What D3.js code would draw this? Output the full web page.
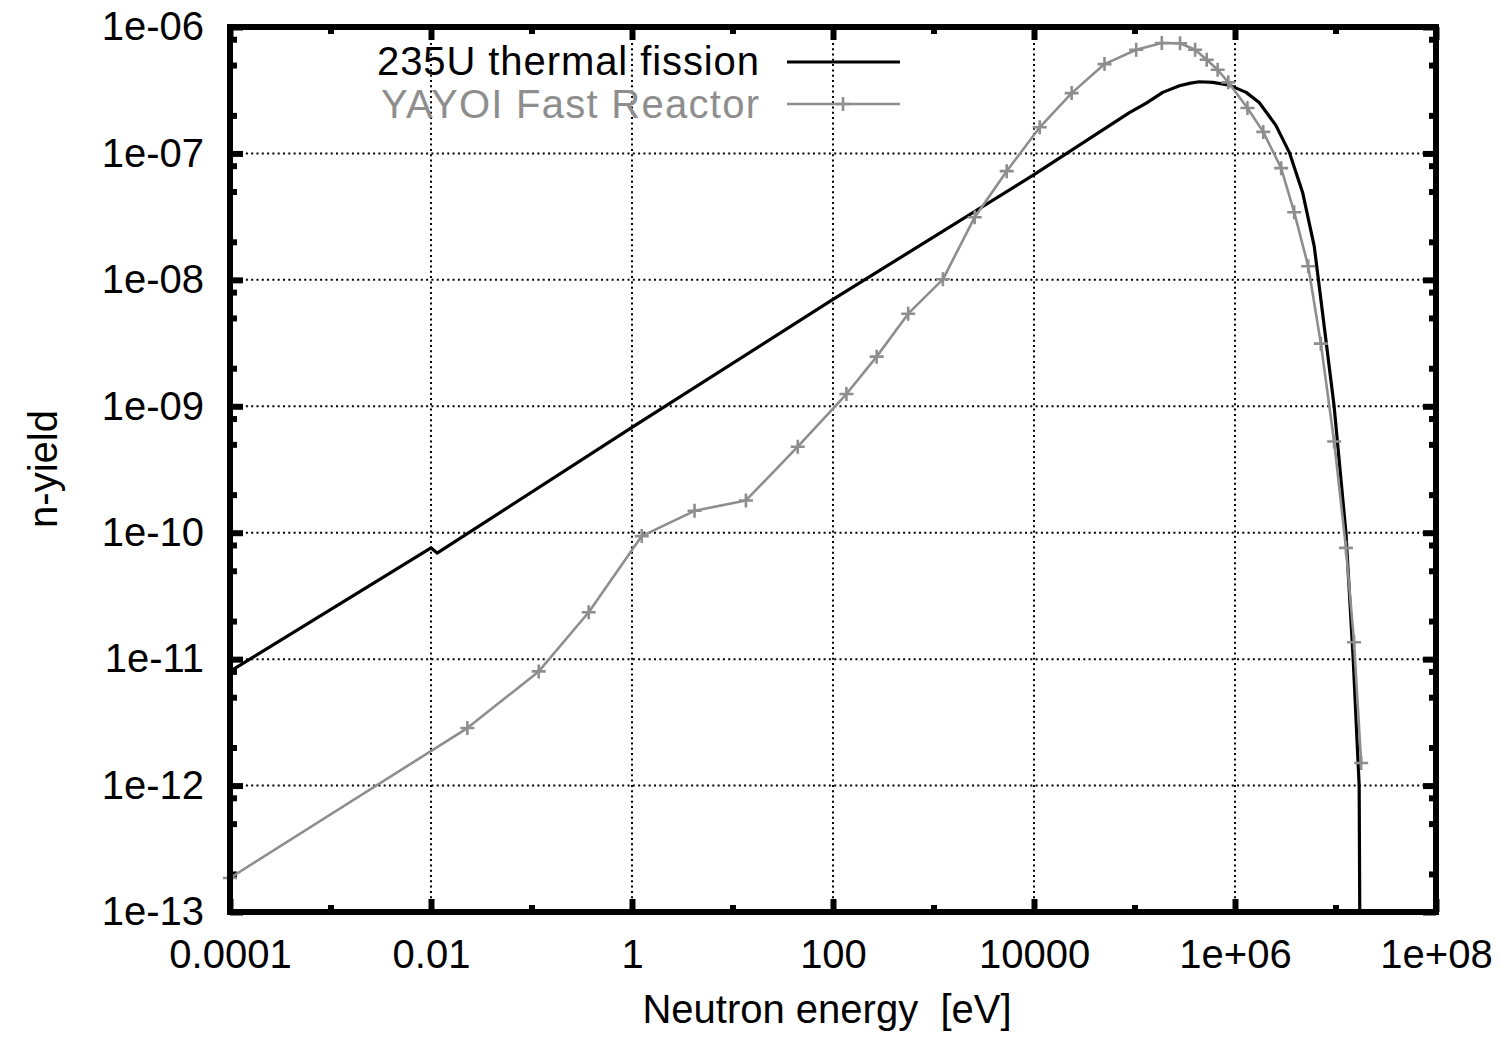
<!DOCTYPE html>
<html>
<head>
<meta charset="utf-8">
<script src="https://cdn.jsdelivr.net/npm/d3@7"></script>
<style>
  body { margin: 0; background: #fff; }
  svg text { font-family: "Liberation Sans", Arial, Helvetica, sans-serif; }
</style>
</head>
<body>
<svg></svg>
<script>
// chart data
var energyTicks = [1e-4, 1e-2, 1, 1e2, 1e4, 1e6, 1e8];
var energyTickLabels = ["0.0001", "0.01", "1", "100", "10000", "1e+06", "1e+08"];
var energyMinorTicks = [1e-3, 1e-1, 1e1, 1e3, 1e5, 1e7];
var yieldTicks = [1e-6, 1e-7, 1e-8, 1e-9, 1e-10, 1e-11, 1e-12, 1e-13];
var yieldTickLabels = ["1e-06", "1e-07", "1e-08", "1e-09", "1e-10", "1e-11", "1e-12", "1e-13"];
var yieldMinorSteps = [2, 5, 8];

var u235Energy = [1e-4, 0.01, 0.0115, 1, 100, 1e4, 8.9e4, 1.31e5, 1.91e5, 2.8e5, 3.6e5, 4.42e5, 6.0e5, 8.77e5,
  1.29e6, 1.74e6, 2.56e6, 3.47e6, 4.70e6, 6.14e6, 7.42e6, 9.69e6, 1.27e7, 1.50e7, 1.72e7, 1.75e7];
var u235Yield = [8.0e-12, 7.6e-11, 6.9e-11, 6.8e-10, 7.0e-9, 6.8e-8, 2.1e-7, 2.5e-7, 3.04e-7, 3.43e-7, 3.6e-7, 3.69e-7, 3.65e-7, 3.47e-7,
  3.04e-7, 2.53e-7, 1.66e-7, 1.02e-7, 4.94e-8, 1.85e-8, 5.53e-9, 1.0e-9, 1.0e-10, 1.0e-11, 1.0e-12, 5e-14];

var yayoiEnergy = [1e-4, 0.023, 0.118, 0.371, 1.25, 4.19, 13.6, 44.6, 136, 272, 560, 1240, 2570, 5350,
  1.14e4, 2.37e4, 5.03e4, 1.04e5, 1.87e5, 2.84e5, 4.01e5, 5.23e5, 6.72e5, 8.58e5,
  1.33e6, 1.91e6, 2.88e6, 3.88e6, 5.35e6, 7.15e6, 9.69e6, 1.27e7, 1.53e7, 1.80e7];
var yayoiYield = [1.86e-13, 2.85e-12, 8.0e-12, 2.35e-11, 9.4e-11, 1.49e-10, 1.80e-10, 4.79e-10, 1.25e-9, 2.47e-9, 5.4e-9, 1.01e-8, 3.13e-8, 7.24e-8,
  1.61e-7, 3.0e-7, 5.09e-7, 6.61e-7, 7.47e-7, 7.43e-7, 6.61e-7, 5.51e-7, 4.59e-7, 3.65e-7,
  2.29e-7, 1.48e-7, 7.65e-8, 3.43e-8, 1.28e-8, 3.13e-9, 5.27e-10, 7.59e-11, 1.36e-11, 1.51e-12];

var seriesNames = ["235U thermal fission", "YAYOI Fast Reactor"];

// layout
var width = 1502, height = 1042;
var plot = {left: 230, right: 1436, top: 27, bottom: 912};
var grey = "#8e8e8e";

var svg = d3.select("svg")
    .attr("width", width)
    .attr("height", height);

var x = d3.scaleLog().domain([1e-4, 1e8]).range([plot.left, plot.right]);
var y = d3.scaleLog().domain([1e-13, 1e-6]).range([plot.bottom, plot.top]);

svg.append("defs").append("clipPath").attr("id", "clip")
  .append("rect")
    .attr("x", plot.left).attr("y", plot.top)
    .attr("width", plot.right - plot.left).attr("height", plot.bottom - plot.top);

// grid
var grid = svg.append("g")
    .attr("stroke", "#000")
    .attr("stroke-width", 2)
    .attr("stroke-dasharray", "2,3.3");
grid.selectAll(".gx").data(energyTicks).enter().append("line")
    .attr("x1", function(d) { return x(d); }).attr("x2", function(d) { return x(d); })
    .attr("y1", plot.top).attr("y2", plot.bottom);
grid.selectAll(".gy").data(yieldTicks).enter().append("line")
    .attr("y1", function(d) { return y(d); }).attr("y2", function(d) { return y(d); })
    .attr("x1", plot.left).attr("x2", plot.right);

// axes (ticks point inward, mirrored on top/right)
var yieldMinor = [];
for (var e = -13; e < -6; e++) {
  yieldMinorSteps.forEach(function(m) { yieldMinor.push(m * Math.pow(10, e)); });
}

function styleAxis(g) {
  g.select(".domain").remove();
  g.attr("font-family", null).attr("font-size", 40);
  g.selectAll("line").attr("stroke-width", 6);
  g.selectAll("text").attr("fill", "#000");
}

function addAxis(axis, tx, ty) {
  svg.append("g")
      .attr("transform", "translate(" + tx + "," + ty + ")")
      .call(axis.tickSizeOuter(0))
      .call(styleAxis);
}

addAxis(d3.axisBottom(x).tickValues(energyTicks)
  .tickFormat(function(d, i) { return energyTickLabels[i]; })
  .tickSize(-13).tickPadding(27.6), 0, plot.bottom);
addAxis(d3.axisBottom(x).tickValues(energyMinorTicks).tickFormat("").tickSize(-7), 0, plot.bottom);
addAxis(d3.axisTop(x).tickValues(energyTicks).tickFormat("").tickSize(-13), 0, plot.top);
addAxis(d3.axisTop(x).tickValues(energyMinorTicks).tickFormat("").tickSize(-7), 0, plot.top);

addAxis(d3.axisLeft(y).tickValues(yieldTicks)
  .tickFormat(function(d, i) { return yieldTickLabels[i]; })
  .tickSize(-13).tickPadding(26), plot.left, 0);
addAxis(d3.axisLeft(y).tickValues(yieldMinor).tickFormat("").tickSize(-7), plot.left, 0);
addAxis(d3.axisRight(y).tickValues(yieldTicks).tickFormat("").tickSize(-13), plot.right, 0);
addAxis(d3.axisRight(y).tickValues(yieldMinor).tickFormat("").tickSize(-7), plot.right, 0);

// curves
var u235 = u235Energy.map(function(d, i) { return [d, u235Yield[i]]; });
var yayoi = yayoiEnergy.map(function(d, i) { return [d, yayoiYield[i]]; });

var line = d3.line()
    .x(function(d) { return x(d[0]); })
    .y(function(d) { return y(d[1]); });

var curves = svg.append("g").attr("clip-path", "url(#clip)");

curves.append("path")
    .datum(u235)
    .attr("fill", "none")
    .attr("stroke", "#000")
    .attr("stroke-width", 3.2)
    .attr("stroke-linejoin", "round")
    .attr("d", line);

curves.append("path")
    .datum(yayoi)
    .attr("fill", "none")
    .attr("stroke", grey)
    .attr("stroke-width", 2.6)
    .attr("stroke-linejoin", "round")
    .attr("d", line);

function plus(g, cx, cy) {
  g.append("path")
    .attr("d", "M" + (cx - 7) + "," + cy + "H" + (cx + 7) + "M" + cx + "," + (cy - 7) + "V" + (cy + 7))
    .attr("stroke", grey)
    .attr("stroke-width", 2.6)
    .attr("fill", "none");
}
var marks = svg.append("g");
yayoi.forEach(function(d) { plus(marks, x(d[0]), y(d[1])); });

// border
svg.append("rect")
    .attr("x", plot.left).attr("y", plot.top)
    .attr("width", plot.right - plot.left).attr("height", plot.bottom - plot.top)
    .attr("fill", "none")
    .attr("stroke", "#000")
    .attr("stroke-width", 6);

// legend
var legend = svg.append("g").attr("font-size", 40);
legend.append("text")
    .attr("x", 759).attr("y", 75)
    .attr("text-anchor", "end")
    .attr("textLength", 382)
    .attr("fill", "#000")
    .text(seriesNames[0]);
legend.append("line")
    .attr("x1", 787).attr("x2", 900).attr("y1", 62).attr("y2", 62)
    .attr("stroke", "#000").attr("stroke-width", 3.2);
legend.append("text")
    .attr("x", 759).attr("y", 118)
    .attr("text-anchor", "end")
    .attr("textLength", 378)
    .attr("fill", grey)
    .text(seriesNames[1]);
legend.append("line")
    .attr("x1", 787).attr("x2", 900).attr("y1", 104).attr("y2", 104)
    .attr("stroke", grey).attr("stroke-width", 2.6);
plus(legend, 843, 104);

// axis titles
svg.append("text")
    .attr("x", 827).attr("y", 1023)
    .attr("text-anchor", "middle")
    .attr("font-size", 40)
    .style("white-space", "pre")
    .text("Neutron energy  [eV]");

svg.append("text")
    .attr("transform", "translate(57,469) rotate(-90)")
    .attr("text-anchor", "middle")
    .attr("font-size", 40)
    .text("n-yield");
</script>
</body>
</html>
